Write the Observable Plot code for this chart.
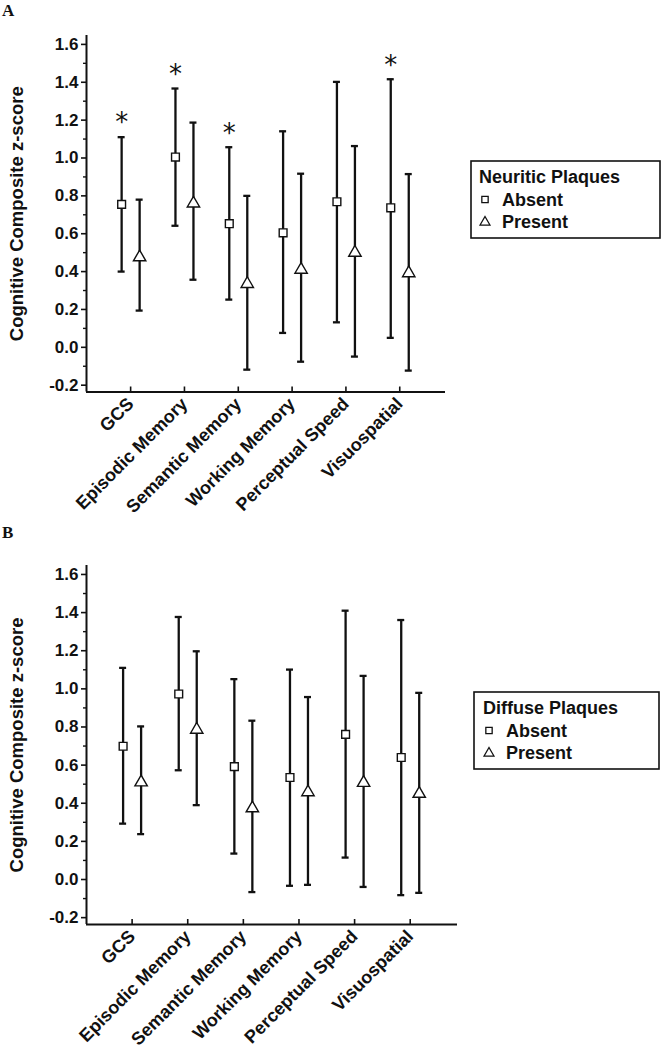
<!DOCTYPE html>
<html><head><meta charset="utf-8">
<script src="https://cdn.jsdelivr.net/npm/d3@7"></script>
<script src="https://cdn.jsdelivr.net/npm/@observablehq/plot@0.6"></script>
<style>
body{margin:0;background:#fff;}
#root{position:relative;width:661px;height:1050px;overflow:hidden;}
.panel{position:absolute;left:0;width:661px;}
.panel svg{position:absolute;left:0;top:0;}
.plabel{position:absolute;font-family:"Liberation Serif","Times New Roman",serif;font-weight:bold;font-size:17px;line-height:1;color:#111;}
</style></head><body><div id="root"></div>
<script>
const categories = ["GCS","Episodic Memory","Semantic Memory","Working Memory","Perceptual Speed","Visuospatial"];
const groups = ["Absent","Present"];

// Panel A — Neuritic plaques
const neuriticAbsentMean = [0.755, 1.005, 0.653, 0.605, 0.769, 0.737];
const neuriticAbsentLow  = [0.400, 0.642, 0.252, 0.076, 0.132, 0.050];
const neuriticAbsentHigh = [1.110, 1.367, 1.057, 1.141, 1.402, 1.416];
const neuriticPresentMean = [0.476, 0.760, 0.335, 0.410, 0.500, 0.392];
const neuriticPresentLow  = [0.194, 0.357, -0.118, -0.076, -0.049, -0.123];
const neuriticPresentHigh = [0.780, 1.187, 0.800, 0.917, 1.063, 0.915];
const neuriticSignificant = [true, true, true, false, false, true];

// Panel B — Diffuse plaques
const diffuseAbsentMean = [0.699, 0.973, 0.592, 0.535, 0.761, 0.640];
const diffuseAbsentLow  = [0.293, 0.573, 0.136, -0.033, 0.115, -0.082];
const diffuseAbsentHigh = [1.110, 1.377, 1.051, 1.101, 1.410, 1.361];
const diffusePresentMean = [0.510, 0.786, 0.374, 0.458, 0.507, 0.450];
const diffusePresentLow  = [0.238, 0.390, -0.066, -0.028, -0.039, -0.070];
const diffusePresentHigh = [0.803, 1.197, 0.833, 0.957, 1.068, 0.979];
const diffuseSignificant = [false, false, false, false, false, false];

const yTicks = [-0.2, 0.0, 0.2, 0.4, 0.6, 0.8, 1.0, 1.2, 1.4, 1.6];
const yMinorTicks = [-0.1, 0.1, 0.3, 0.5, 0.7, 0.9, 1.1, 1.3, 1.5];
const yTitle = "Cognitive Composite z-score";

const INK = "#111";
const FONT = "'Liberation Sans', Arial, Helvetica, sans-serif";
const xDomain = [-0.82, 5.85];
const yDomain = [-0.236, 1.647];

function rows(mean, low, high, sig) {
  return categories.map((c, i) => ({i, cat: c, mean: mean[i], low: low[i], high: high[i], sig: sig ? sig[i] : false}));
}

function makePanel(cfg) {
  const L = cfg.layout;
  const abs = rows(cfg.absMean, cfg.absLow, cfg.absHigh, cfg.sig);
  const pre = rows(cfg.preMean, cfg.preLow, cfg.preHigh, null);
  const idx = categories.map((_, i) => i);
  const plotH = L.height - L.mt - L.mb;
  const off = 9;
  const barW = 2.3;
  const errMarks = (data, dx) => [
    Plot.ruleX(data, {x: "i", y1: "low", y2: "high", dx, stroke: INK, strokeWidth: barW}),
    Plot.ruleY(data, {x1: "i", x2: "i", y: "high", dx, insetLeft: -3.5, insetRight: -3.5, stroke: INK, strokeWidth: barW}),
    Plot.ruleY(data, {x1: "i", x2: "i", y: "low", dx, insetLeft: -3.5, insetRight: -3.5, stroke: INK, strokeWidth: barW})
  ];
  const chart = Plot.plot({
    width: 661, height: L.height,
    marginLeft: 86, marginRight: L.mr, marginTop: L.mt, marginBottom: L.mb,
    x: {type: "linear", domain: xDomain},
    y: {domain: yDomain},
    style: {fontFamily: FONT, fontWeight: "bold", fontSize: "17px", background: "transparent", color: INK, overflow: "visible"},
    marks: [
      Plot.axisY({ticks: yTicks, tickSize: 5, tickPadding: 3, tickFormat: d => d.toFixed(1), label: null, strokeWidth: 1.6, fontSize: 17}),
      Plot.axisY({ticks: yMinorTicks, tickSize: 3, tickFormat: () => "", label: null, strokeWidth: 1.4}),
      Plot.axisX({ticks: idx, tickSize: 0, tickPadding: 9, tickRotate: -45, tickFormat: i => categories[i], label: null, fontSize: 18}),
      Plot.ruleX(idx, {x: d => d, insetTop: plotH - 5, stroke: INK, strokeWidth: 1.6}),
      Plot.ruleX([xDomain[0]], {stroke: INK, strokeWidth: 2}),
      Plot.ruleY([yDomain[0]], {stroke: INK, strokeWidth: 2}),
      ...errMarks(abs, -off),
      ...errMarks(pre, off),
      Plot.dot(abs, {x: "i", y: "mean", dx: -off, symbol: "square", r: 4.4, fill: "white", stroke: INK, strokeWidth: 1.4}),
      Plot.dot(pre, {x: "i", y: "mean", dx: off, symbol: "triangle", r: 4.6, fill: "white", stroke: INK, strokeWidth: 1.4}),
      Plot.text(abs.filter(d => d.sig), {x: "i", y: "high", dx: -off, dy: -14, text: () => "*", fontSize: 26, fontWeight: "normal", fontFamily: "'DejaVu Sans', sans-serif", fill: INK}),
      Plot.text([yTitle], {frameAnchor: "left", textAnchor: "middle", rotate: -90, dx: -69, fontSize: 18.5, fill: INK})
    ]
  });

  const panel = document.createElement("div");
  panel.className = "panel";
  panel.style.top = L.top + "px";
  panel.style.height = L.height + "px";
  panel.appendChild(chart);

  // legend overlay
  const lg = L.legend;
  const svg = d3.create("svg").attr("width", 661).attr("height", L.height)
    .style("font-family", FONT).style("font-weight", "bold").style("font-size", "18px");
  svg.append("rect").attr("x", lg.x).attr("y", lg.y).attr("width", lg.w).attr("height", lg.h)
    .attr("fill", "white").attr("stroke", INK).attr("stroke-width", 1.6);
  svg.append("text").attr("x", lg.x + lg.pad).attr("y", lg.y + 22).attr("fill", INK).text(cfg.legendTitle);
  const syms = [d3.symbolSquare, d3.symbolTriangle];
  const sizes = [40, 42];
  groups.forEach((g, k) => {
    const base = lg.y + 44.5 + k * 22.7;
    svg.append("path").attr("d", d3.symbol(syms[k], sizes[k])())
      .attr("transform", `translate(${lg.x + lg.pad + 6},${base - 6})`)
      .attr("fill", "white").attr("stroke", INK).attr("stroke-width", 1.3);
    svg.append("text").attr("x", lg.x + lg.pad + 23).attr("y", base).attr("fill", INK).text(g);
  });
  panel.appendChild(svg.node());

  const lab = document.createElement("div");
  lab.className = "plabel";
  lab.textContent = cfg.panelLabel;
  lab.style.left = "2px";
  lab.style.top = L.labelTop + "px";
  panel.appendChild(lab);
  document.getElementById("root").appendChild(panel);
}

makePanel({
  panelLabel: "A", legendTitle: "Neuritic Plaques",
  absMean: neuriticAbsentMean, absLow: neuriticAbsentLow, absHigh: neuriticAbsentHigh,
  preMean: neuriticPresentMean, preLow: neuriticPresentLow, preHigh: neuriticPresentHigh,
  sig: neuriticSignificant,
  layout: {top: 0, height: 520, mt: 35, mb: 128.5, mr: 216, labelTop: 2,
           legend: {x: 471, y: 161, w: 189, h: 77, pad: 8}}
});
makePanel({
  panelLabel: "B", legendTitle: "Diffuse Plaques",
  absMean: diffuseAbsentMean, absLow: diffuseAbsentLow, absHigh: diffuseAbsentHigh,
  preMean: diffusePresentMean, preLow: diffusePresentLow, preHigh: diffusePresentHigh,
  sig: diffuseSignificant,
  layout: {top: 520, height: 530, mt: 45, mb: 126, mr: 204, labelTop: 4,
           legend: {x: 474, y: 172, w: 185, h: 77, pad: 9}}
});
</script></body></html>
